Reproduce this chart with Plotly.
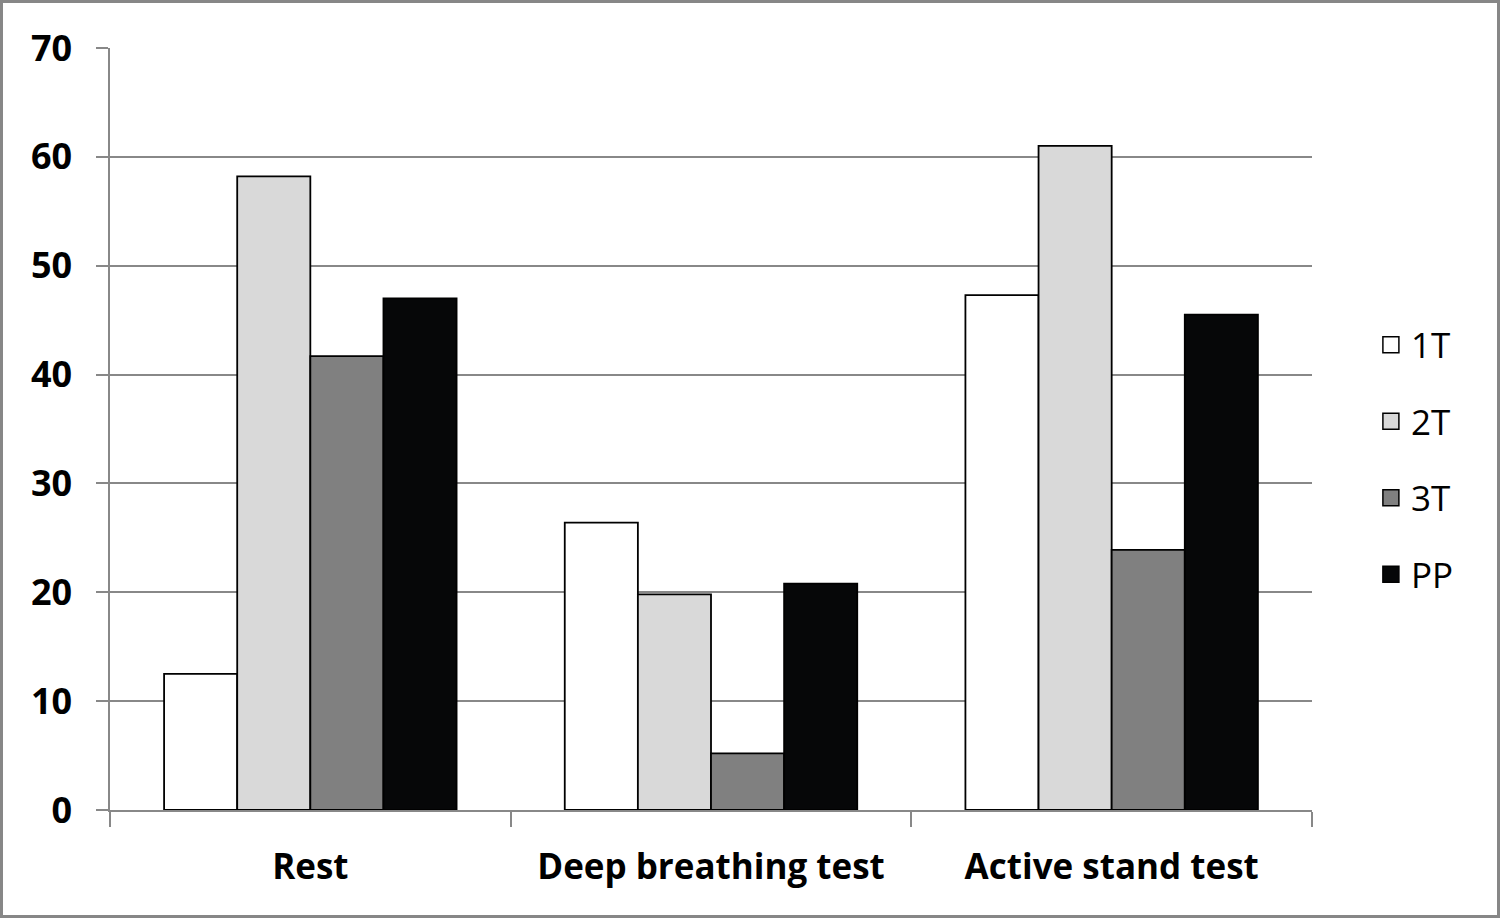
import plotly.graph_objects as go

categories = ["Rest", "Deep breathing test", "Active stand test"]
series_names = ["1T", "2T", "3T", "PP"]
v_1T = [12.5, 26.4, 47.3]
v_2T = [58.2, 19.8, 61.0]
v_3T = [41.7, 5.2, 23.9]
v_PP = [47.0, 20.8, 45.5]
y_ticks = [0, 10, 20, 30, 40, 50, 60, 70]

values = [v_1T, v_2T, v_3T, v_PP]
colors = ["#ffffff", "#d9d9d9", "#808080", "#060708"]

W, H = 1500, 918
ml, mr, mt, mb = 110, 188, 48, 108

fig = go.Figure()
for i, (name, vals) in enumerate(zip(series_names, values)):
    fig.add_trace(go.Bar(
        x=categories, y=vals, name=name,
        marker=dict(color=colors[i], line=dict(color="#000000", width=1.8)),
        legendgroup=name, showlegend=False,
    ))
# legend proxies (larger square swatches)
for i, name in enumerate(series_names):
    fig.add_trace(go.Scatter(
        x=[None], y=[None], mode="markers", name=name, legendgroup=name,
        marker=dict(symbol="square", size=20, color=colors[i],
                    line=dict(color="#000000", width=1.5)),
    ))

pw = W - ml - mr
ph = H - mt - mb
fig.add_shape(type="rect", xref="paper", yref="paper",
              x0=-(ml - 1.5) / pw, x1=1 + (mr - 1.5) / pw,
              y0=-(mb - 1.5) / ph, y1=1 + (mt - 1.5) / ph,
              line=dict(color="#878787", width=3), fillcolor="rgba(0,0,0,0)", layer="above")

fig.update_layout(
    width=W, height=H,
    margin=dict(l=ml, r=mr, t=mt, b=mb),
    paper_bgcolor="white", plot_bgcolor="white",
    barmode="group", bargap=0.27, bargroupgap=0,
    font=dict(family="Open Sans", color="#000000"),
    showlegend=True,
    legend=dict(x=1.049, y=0.46, xanchor="left", yanchor="middle",
                font=dict(size=35, family="Open Sans"), tracegroupgap=28,
                itemsizing="trace", itemwidth=30),
    xaxis=dict(showline=True, linecolor="#888888", linewidth=1.5,
               ticks="outside", tickson="boundaries", ticklen=15,
               tickcolor="#888888", tickwidth=1.5, ticklabelstandoff=25,
               tickfont=dict(size=35, family="Open Sans", color="#000000", weight="bold"),
               showgrid=False),
    yaxis=dict(range=[0, 70], tickvals=y_ticks, showline=True, linecolor="#888888",
               linewidth=1.5, ticks="outside", ticklen=12, tickcolor="#888888",
               tickwidth=1.5, showgrid=True, gridcolor="#888888", gridwidth=1.5,
               zeroline=False, ticklabelstandoff=17,
               tickfont=dict(size=36, family="Open Sans", color="#000000", weight="bold")),
)

fig.write_html("out.html", post_script="document.body.style.margin='0';",
               config={"displayModeBar": False})
